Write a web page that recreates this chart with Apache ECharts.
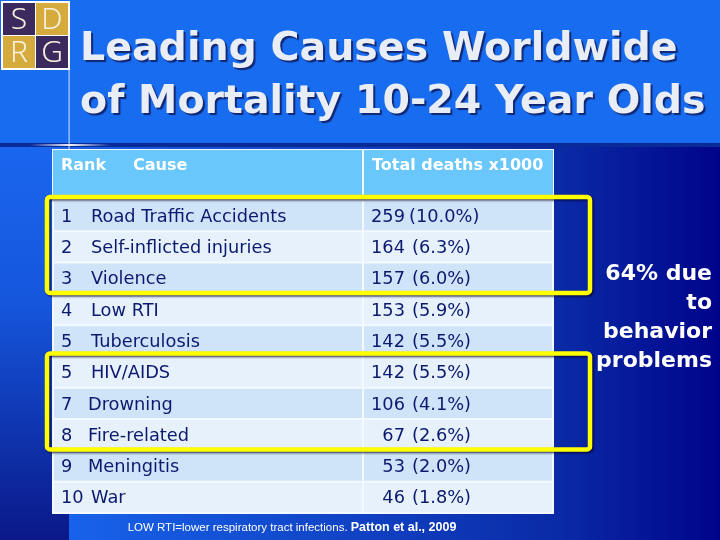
<!DOCTYPE html>
<html><head><meta charset="utf-8">
<script src="https://cdn.jsdelivr.net/npm/echarts@6/dist/echarts.min.js"></script>
<style>html,body{margin:0;padding:0;background:#176cf0}#c{width:720px;height:540px}</style>
</head><body><div id="c"></div>
<script>
// ---- data ----
const ranks = ['1','2','3','4','5','5','7','8','9','10'];
const causes = ['Road Traffic Accidents','Self-inflicted injuries','Violence','Low RTI','Tuberculosis','HIV/AIDS','Drowning','Fire-related','Meningitis','War'];
const deaths = [259,164,157,153,142,142,106,67,53,46];
const shares = ['10.0','6.3','6.0','5.9','5.5','5.5','4.1','2.6','2.0','1.8'];
const headers = ['Rank','Cause','Total deaths x1000'];
const highlightGroups = [[0,2],[5,7]];
const titleLines = ['Leading Causes Worldwide','of Mortality 10-24 Year Olds'];
const noteLines = ['64% due','to','behavior','problems'];
const footnote = 'LOW RTI=lower respiratory tract infections. ';
const citation = 'Patton et al., 2009';
const logoLetters = ['S','D','R','G'];

// ---- layout / style ----
const G = {left:53, top:200, width:500, height:313};
const COL_SPLIT = 310;          // x-axis units (px-like) where 2nd column starts
const TXT = '#0b1a6e';
const ROW_A = '#cfe4f8', ROW_B = '#e6f1fb';
const FONT = 'DejaVu Sans';

const chart = echarts.init(document.getElementById('c'), null, {renderer:'canvas'});

function rowItem(params, api){
  const i = api.value(1);
  const c = api.coord([0, i]);
  const bh = api.size([0,1])[1];
  const x0 = c[0], top = c[1]-bh/2;
  const xs = api.coord([COL_SPLIT, i])[0];
  const x1 = api.coord([500, i])[0];
  const fill = i % 2 === 0 ? ROW_A : ROW_B;
  const cy = c[1] + 1.5;
  const causeX = x0 + (i >= 6 && i <= 8 ? 35 : 38);
  const big = parseFloat(shares[i]) >= 10;
  const numRight = xs + 42;
  const pctX = xs + (big ? 46 : 49);
  const ts = (t, x, align) => ({type:'text', style:{text:t, x:x, y:cy, align:align||'left', verticalAlign:'middle', fill:TXT, fontFamily:FONT, fontSize:17.8}});
  return {type:'group', children:[
    {type:'rect', shape:{x:x0+1, y:top+1, width:xs-x0-2, height:bh-2}, style:{fill:fill}},
    {type:'rect', shape:{x:xs+1, y:top+1, width:x1-xs-2, height:bh-2}, style:{fill:fill}},
    ts(ranks[i], x0+8),
    ts(causes[i], causeX),
    ts(String(deaths[i]), numRight, 'right'),
    ts('(' + shares[i] + '%)', pctX)
  ]};
}

function boxItem(params, api){
  const s = api.value(0), e = api.value(1);
  const bh = api.size([0,1])[1];
  const t = api.coord([0, s])[1] - bh/2 - 3;
  const b = api.coord([0, e])[1] + bh/2 - 1;
  const l = api.coord([0, s])[0] - 6;
  const r = api.coord([500, s])[0] + 37;
  return {type:'rect', shape:{x:l, y:t, width:r-l, height:b-t, r:3},
    style:{fill:null, stroke:'#ffff00', lineWidth:4.5, shadowColor:'rgba(0,0,40,0.7)', shadowBlur:2, shadowOffsetX:1.5, shadowOffsetY:1.5}};
}

const graphics = [];
// backgrounds
graphics.push({type:'rect', z:-10, shape:{x:0,y:0,width:720,height:146}, style:{fill:'#176cf0'}});
graphics.push({type:'rect', z:-10, shape:{x:0,y:146,width:720,height:394}, style:{fill:new echarts.graphic.LinearGradient(0,0,1,0,[
  {offset:0,color:'#1a66ee'},{offset:0.1,color:'#1762ea'},{offset:0.45,color:'#1146c8'},{offset:0.78,color:'#0a2aa6'},{offset:1,color:'#00048a'}])}});
graphics.push({type:'rect', z:-9, shape:{x:0,y:146,width:69,height:394}, style:{fill:new echarts.graphic.LinearGradient(0,0,0,1,[
  {offset:0,color:'#1a66ee'},{offset:0.4,color:'#1556dc'},{offset:1,color:'#0a1888'}])}});
graphics.push({type:'rect', z:-8, shape:{x:0,y:143,width:720,height:4}, style:{fill:'#0a2a98'}});
graphics.push({type:'rect', z:-7, shape:{x:30,y:144,width:80,height:2}, style:{fill:new echarts.graphic.LinearGradient(0,0,1,0,[
  {offset:0,color:'rgba(255,255,255,0)'},{offset:0.5,color:'rgba(255,255,255,0.95)'},{offset:1,color:'rgba(255,255,255,0)'}])}});
graphics.push({type:'rect', z:-7, shape:{x:68.5,y:70,width:1.2,height:80}, style:{fill:'rgba(210,225,255,0.85)'}});

// logo
const logoCols = ['#3b2a5e','#d6ab3d','#d6ab3d','#3b2a5e'];
graphics.push({type:'rect', shape:{x:1,y:1,width:69,height:69}, style:{fill:'#ffffff'}});
logoLetters.forEach((L,k)=>{
  const cx = 3 + (k%2)*33, cy = 3 + Math.floor(k/2)*33;
  graphics.push({type:'rect', shape:{x:cx,y:cy,width:32,height:32}, style:{fill:logoCols[k]}});
  graphics.push({type:'text', style:{text:L, x:cx+16, y:cy+17, align:'center', verticalAlign:'middle', fill:'#f6f0de', fontFamily:'Noto Sans', fontSize:30, fontWeight:300}});
});

// title
titleLines.forEach((t,k)=>{
  graphics.push({type:'text', style:{text:t, x:80, y:50+k*53, verticalAlign:'middle', fill:'#e8edf6', fontFamily:FONT, fontWeight:'bold', fontSize:39.5,
    textShadowColor:'rgba(15,30,100,0.9)', textShadowOffsetX:2, textShadowOffsetY:2, textShadowBlur:1}});
});

// header
graphics.push({type:'rect', shape:{x:52,y:149,width:502,height:365}, style:{fill:'#f4f9ff'}});
graphics.push({type:'rect', shape:{x:53,y:150,width:309,height:46}, style:{fill:'#69c7fb'}});
graphics.push({type:'rect', shape:{x:364,y:150,width:189,height:46}, style:{fill:'#69c7fb'}});
const hdr = (t,x)=>({type:'text', style:{text:t, x:x, y:166, verticalAlign:'middle', fill:'#ffffff', fontFamily:FONT, fontWeight:'bold', fontSize:16}});
graphics.push(hdr(headers[0],61), hdr(headers[1],133), hdr(headers[2],372));

// note on right
noteLines.forEach((t,k)=>{
  graphics.push({type:'text', style:{text:t, x:712, y:274+k*29, align:'right', verticalAlign:'middle', fill:'#ffffff', fontFamily:FONT, fontWeight:'bold', fontSize:22}});
});

// footnote
graphics.push({type:'text', style:{text:'{a|'+footnote+'}{b|'+citation+'}', x:292, y:528, align:'center', verticalAlign:'middle',
  rich:{a:{fill:'#ffffff', fontFamily:'Liberation Sans', fontSize:11.5}, b:{fill:'#ffffff', fontFamily:'Liberation Sans', fontWeight:'bold', fontSize:12.5}}}});

chart.setOption({
  animation:false,
  grid:{left:G.left, top:G.top, width:G.width, height:G.height},
  xAxis:{type:'value', min:0, max:500, show:false},
  yAxis:{type:'category', data:causes, inverse:true, show:false},
  graphic:graphics,
  series:[
    {type:'custom', renderItem:rowItem, data:causes.map((c,i)=>[0,i]), z:5, silent:true},
    {type:'custom', renderItem:boxItem, data:highlightGroups, z:10, silent:true, clip:false}
  ]
});
</script></body></html>
